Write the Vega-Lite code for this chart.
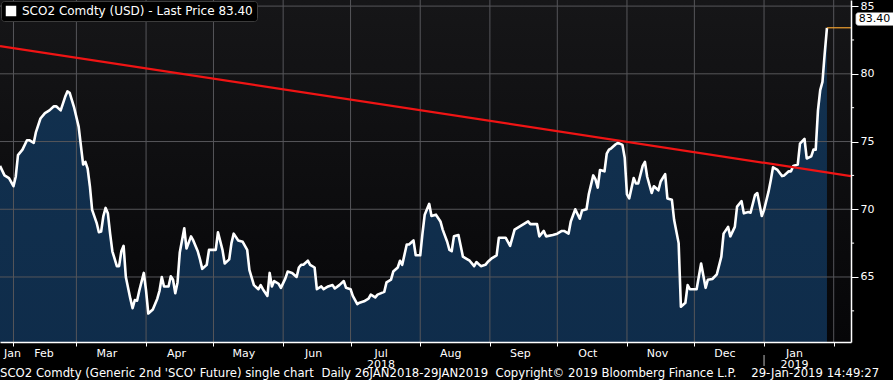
{
  "$schema": "https://vega.github.io/schema/vega-lite/v6.json",
  "width": 851,
  "height": 342,
  "autosize": {"type": "none"},
  "padding": {"left": 0, "top": 0, "right": 42, "bottom": 38},
  "background": "#000000",
  "title": {
    "text": "SCO2 Comdty (Generic 2nd 'SCO' Future) single chart\u00a0\u00a0Daily 26JAN2018-29JAN2019\u00a0\u00a0Copyright\u00a9 2019 Bloomberg Finance L.P.\u00a0\u00a0\u00a0\u00a029-Jan-2019 14:49:27",
    "orient": "bottom", "anchor": "start", "frame": "group", "offset": -1,
    "color": "#ffffff", "font": "DejaVu Sans", "fontSize": 11.7, "fontWeight": "normal"
  },
  "config": {
    "view": {"stroke": null, "fill": {"gradient": "linear", "x1": 0, "y1": 0, "x2": 0, "y2": 1, "stops": [{"offset": 0, "color": "#161618"}, {"offset": 1, "color": "#060608"}]}},
    "font": "DejaVu Sans",
    "axis": {
      "title": null, "labelFont": "DejaVu Sans", "labelFontSize": 11, "labelColor": "#ffffff",
      "domainColor": "#ffffff", "tickColor": "#ffffff", "grid": false
    }
  },
  "datasets": {
    "prices": [
      {"date": "2018-01-26", "price": 73.2}, {"date": "2018-01-28", "price": 72.5}, {"date": "2018-01-30", "price": 72.3},
      {"date": "2018-02-01", "price": 71.7}, {"date": "2018-02-02", "price": 72.4}, {"date": "2018-02-03", "price": 74.0},
      {"date": "2018-02-05", "price": 74.4}, {"date": "2018-02-07", "price": 75.1}, {"date": "2018-02-08", "price": 75.1},
      {"date": "2018-02-10", "price": 74.9}, {"date": "2018-02-11", "price": 75.7}, {"date": "2018-02-13", "price": 76.7},
      {"date": "2018-02-15", "price": 77.1}, {"date": "2018-02-17", "price": 77.3}, {"date": "2018-02-19", "price": 77.6},
      {"date": "2018-02-20", "price": 77.6}, {"date": "2018-02-22", "price": 77.3}, {"date": "2018-02-24", "price": 78.3},
      {"date": "2018-02-25", "price": 78.7}, {"date": "2018-02-26", "price": 78.6}, {"date": "2018-02-28", "price": 77.5},
      {"date": "2018-03-02", "price": 76.1}, {"date": "2018-03-04", "price": 73.3}, {"date": "2018-03-05", "price": 73.5},
      {"date": "2018-03-06", "price": 73.0}, {"date": "2018-03-07", "price": 71.7}, {"date": "2018-03-08", "price": 69.95},
      {"date": "2018-03-10", "price": 69.0}, {"date": "2018-03-11", "price": 68.3}, {"date": "2018-03-12", "price": 68.35},
      {"date": "2018-03-13", "price": 69.5}, {"date": "2018-03-14", "price": 70.1}, {"date": "2018-03-15", "price": 69.7},
      {"date": "2018-03-16", "price": 68.2}, {"date": "2018-03-17", "price": 66.9}, {"date": "2018-03-19", "price": 65.8},
      {"date": "2018-03-20", "price": 65.8}, {"date": "2018-03-21", "price": 66.9}, {"date": "2018-03-22", "price": 67.3},
      {"date": "2018-03-23", "price": 65.0}, {"date": "2018-03-25", "price": 63.4}, {"date": "2018-03-26", "price": 62.7},
      {"date": "2018-03-27", "price": 63.3}, {"date": "2018-03-28", "price": 63.25}, {"date": "2018-03-29", "price": 64.0},
      {"date": "2018-03-31", "price": 65.3}, {"date": "2018-04-01", "price": 64.0}, {"date": "2018-04-02", "price": 62.3},
      {"date": "2018-04-04", "price": 62.6}, {"date": "2018-04-06", "price": 63.4}, {"date": "2018-04-07", "price": 64.0},
      {"date": "2018-04-08", "price": 65.0}, {"date": "2018-04-09", "price": 64.3}, {"date": "2018-04-11", "price": 64.3},
      {"date": "2018-04-12", "price": 65.05}, {"date": "2018-04-13", "price": 64.8}, {"date": "2018-04-14", "price": 63.8},
      {"date": "2018-04-15", "price": 64.6}, {"date": "2018-04-16", "price": 66.8}, {"date": "2018-04-18", "price": 68.6},
      {"date": "2018-04-19", "price": 67.1}, {"date": "2018-04-21", "price": 68.0}, {"date": "2018-04-22", "price": 67.7},
      {"date": "2018-04-24", "price": 66.9}, {"date": "2018-04-25", "price": 66.3}, {"date": "2018-04-26", "price": 65.6},
      {"date": "2018-04-28", "price": 65.9}, {"date": "2018-04-29", "price": 67.0}, {"date": "2018-05-02", "price": 67.0},
      {"date": "2018-05-03", "price": 68.3}, {"date": "2018-05-05", "price": 67.0}, {"date": "2018-05-06", "price": 66.0},
      {"date": "2018-05-08", "price": 66.3}, {"date": "2018-05-09", "price": 67.5}, {"date": "2018-05-10", "price": 68.2},
      {"date": "2018-05-12", "price": 67.7}, {"date": "2018-05-14", "price": 67.6}, {"date": "2018-05-16", "price": 67.0},
      {"date": "2018-05-17", "price": 65.5}, {"date": "2018-05-19", "price": 64.4}, {"date": "2018-05-21", "price": 64.1},
      {"date": "2018-05-22", "price": 64.4}, {"date": "2018-05-23", "price": 64.1}, {"date": "2018-05-25", "price": 63.6},
      {"date": "2018-05-26", "price": 65.3}, {"date": "2018-05-27", "price": 64.3}, {"date": "2018-05-28", "price": 64.7},
      {"date": "2018-05-30", "price": 64.5}, {"date": "2018-05-31", "price": 64.2}, {"date": "2018-06-02", "price": 64.9},
      {"date": "2018-06-03", "price": 65.4}, {"date": "2018-06-05", "price": 65.3}, {"date": "2018-06-07", "price": 65.0},
      {"date": "2018-06-08", "price": 65.7}, {"date": "2018-06-09", "price": 65.9}, {"date": "2018-06-10", "price": 65.9},
      {"date": "2018-06-12", "price": 66.2}, {"date": "2018-06-13", "price": 65.9}, {"date": "2018-06-15", "price": 65.7},
      {"date": "2018-06-16", "price": 64.1}, {"date": "2018-06-18", "price": 64.3}, {"date": "2018-06-19", "price": 64.1},
      {"date": "2018-06-21", "price": 64.3}, {"date": "2018-06-23", "price": 64.4}, {"date": "2018-06-24", "price": 64.15},
      {"date": "2018-06-26", "price": 64.4}, {"date": "2018-06-28", "price": 64.7}, {"date": "2018-06-29", "price": 64.2},
      {"date": "2018-07-01", "price": 64.1}, {"date": "2018-07-02", "price": 63.6}, {"date": "2018-07-04", "price": 63.0},
      {"date": "2018-07-05", "price": 63.1}, {"date": "2018-07-07", "price": 63.2}, {"date": "2018-07-09", "price": 63.4},
      {"date": "2018-07-10", "price": 63.7}, {"date": "2018-07-12", "price": 63.5}, {"date": "2018-07-13", "price": 63.7},
      {"date": "2018-07-16", "price": 63.9}, {"date": "2018-07-17", "price": 64.6}, {"date": "2018-07-19", "price": 64.8},
      {"date": "2018-07-20", "price": 65.4}, {"date": "2018-07-22", "price": 65.7}, {"date": "2018-07-23", "price": 66.2},
      {"date": "2018-07-24", "price": 65.9}, {"date": "2018-07-26", "price": 67.4}, {"date": "2018-07-27", "price": 67.4},
      {"date": "2018-07-29", "price": 67.7}, {"date": "2018-07-30", "price": 66.6}, {"date": "2018-08-01", "price": 66.6},
      {"date": "2018-08-02", "price": 68.2}, {"date": "2018-08-03", "price": 69.6}, {"date": "2018-08-05", "price": 70.4},
      {"date": "2018-08-06", "price": 69.5}, {"date": "2018-08-08", "price": 69.6}, {"date": "2018-08-10", "price": 69.1},
      {"date": "2018-08-11", "price": 68.5}, {"date": "2018-08-13", "price": 67.6}, {"date": "2018-08-14", "price": 67.0},
      {"date": "2018-08-15", "price": 66.9}, {"date": "2018-08-16", "price": 68.0}, {"date": "2018-08-18", "price": 68.1},
      {"date": "2018-08-19", "price": 67.3}, {"date": "2018-08-20", "price": 66.5}, {"date": "2018-08-22", "price": 66.3},
      {"date": "2018-08-23", "price": 66.2}, {"date": "2018-08-25", "price": 65.8}, {"date": "2018-08-26", "price": 66.1},
      {"date": "2018-08-28", "price": 65.8}, {"date": "2018-08-30", "price": 65.9}, {"date": "2018-08-31", "price": 66.1},
      {"date": "2018-09-02", "price": 66.4}, {"date": "2018-09-04", "price": 66.6}, {"date": "2018-09-05", "price": 67.9},
      {"date": "2018-09-07", "price": 67.9}, {"date": "2018-09-08", "price": 67.9}, {"date": "2018-09-10", "price": 67.3},
      {"date": "2018-09-12", "price": 68.5}, {"date": "2018-09-14", "price": 68.7}, {"date": "2018-09-16", "price": 68.9},
      {"date": "2018-09-18", "price": 69.1}, {"date": "2018-09-19", "price": 68.9}, {"date": "2018-09-22", "price": 68.9},
      {"date": "2018-09-23", "price": 68.0}, {"date": "2018-09-25", "price": 68.4}, {"date": "2018-09-26", "price": 68.0},
      {"date": "2018-09-29", "price": 68.1}, {"date": "2018-10-01", "price": 68.2}, {"date": "2018-10-03", "price": 68.4},
      {"date": "2018-10-04", "price": 68.4}, {"date": "2018-10-06", "price": 68.2}, {"date": "2018-10-07", "price": 69.1},
      {"date": "2018-10-09", "price": 70.0}, {"date": "2018-10-11", "price": 69.3}, {"date": "2018-10-12", "price": 69.9},
      {"date": "2018-10-14", "price": 70.0}, {"date": "2018-10-15", "price": 71.1}, {"date": "2018-10-17", "price": 72.5},
      {"date": "2018-10-18", "price": 72.2}, {"date": "2018-10-19", "price": 71.6}, {"date": "2018-10-20", "price": 72.9},
      {"date": "2018-10-22", "price": 72.8}, {"date": "2018-10-23", "price": 74.1}, {"date": "2018-10-24", "price": 74.4},
      {"date": "2018-10-25", "price": 74.5}, {"date": "2018-10-27", "price": 74.8}, {"date": "2018-10-28", "price": 74.9},
      {"date": "2018-10-30", "price": 74.75}, {"date": "2018-10-31", "price": 73.8}, {"date": "2018-11-01", "price": 71.1},
      {"date": "2018-11-02", "price": 70.8}, {"date": "2018-11-04", "price": 72.3}, {"date": "2018-11-05", "price": 71.9},
      {"date": "2018-11-06", "price": 71.9}, {"date": "2018-11-08", "price": 73.2}, {"date": "2018-11-09", "price": 73.5},
      {"date": "2018-11-10", "price": 72.4}, {"date": "2018-11-12", "price": 71.2}, {"date": "2018-11-13", "price": 71.7},
      {"date": "2018-11-15", "price": 71.4}, {"date": "2018-11-16", "price": 72.05}, {"date": "2018-11-18", "price": 72.6},
      {"date": "2018-11-19", "price": 70.8}, {"date": "2018-11-21", "price": 70.7}, {"date": "2018-11-22", "price": 69.2},
      {"date": "2018-11-24", "price": 67.5}, {"date": "2018-11-25", "price": 62.8}, {"date": "2018-11-27", "price": 63.1},
      {"date": "2018-11-28", "price": 64.4}, {"date": "2018-11-29", "price": 64.1}, {"date": "2018-12-02", "price": 64.1},
      {"date": "2018-12-03", "price": 65.05}, {"date": "2018-12-04", "price": 66.0}, {"date": "2018-12-06", "price": 64.2},
      {"date": "2018-12-07", "price": 64.8}, {"date": "2018-12-09", "price": 64.85}, {"date": "2018-12-11", "price": 65.2},
      {"date": "2018-12-13", "price": 66.5}, {"date": "2018-12-14", "price": 68.2}, {"date": "2018-12-16", "price": 68.7},
      {"date": "2018-12-17", "price": 68.0}, {"date": "2018-12-19", "price": 68.7}, {"date": "2018-12-20", "price": 70.2},
      {"date": "2018-12-22", "price": 70.6}, {"date": "2018-12-23", "price": 69.7}, {"date": "2018-12-25", "price": 69.8},
      {"date": "2018-12-26", "price": 69.75}, {"date": "2018-12-28", "price": 71.05}, {"date": "2018-12-29", "price": 71.2},
      {"date": "2018-12-31", "price": 69.5}, {"date": "2019-01-01", "price": 69.95}, {"date": "2019-01-03", "price": 71.3},
      {"date": "2019-01-04", "price": 72.15}, {"date": "2019-01-05", "price": 73.1}, {"date": "2019-01-07", "price": 72.9},
      {"date": "2019-01-09", "price": 72.45}, {"date": "2019-01-10", "price": 72.5}, {"date": "2019-01-12", "price": 72.8},
      {"date": "2019-01-13", "price": 72.8}, {"date": "2019-01-14", "price": 73.2}, {"date": "2019-01-16", "price": 73.3},
      {"date": "2019-01-17", "price": 74.85}, {"date": "2019-01-19", "price": 75.2}, {"date": "2019-01-20", "price": 73.75},
      {"date": "2019-01-22", "price": 73.9}, {"date": "2019-01-23", "price": 74.4}, {"date": "2019-01-24", "price": 74.4},
      {"date": "2019-01-25", "price": 77.3}, {"date": "2019-01-26", "price": 78.8}, {"date": "2019-01-27", "price": 79.4},
      {"date": "2019-01-28", "price": 81.5}, {"date": "2019-01-29", "price": 83.4}
    ],
    "trend": [
      {"date": "2018-01-26T00:00:00Z", "price": 82.05},
      {"date": "2019-02-08T16:48:00Z", "price": 72.45}
    ],
    "last": [
      {"date": "2019-01-29", "price": 83.4, "label": "83.40"}
    ],
    "monthGrid": [
      {"date": "2018-02-01"}, {"date": "2018-03-01"}, {"date": "2018-04-01"}, {"date": "2018-05-01"},
      {"date": "2018-06-01"}, {"date": "2018-07-01"}, {"date": "2018-08-01"}, {"date": "2018-09-01"},
      {"date": "2018-10-01"}, {"date": "2018-11-01"}, {"date": "2018-12-01"}, {"date": "2019-01-01"},
      {"date": "2019-02-01"}
    ],
    "priceGrid": [
      {"level": 65}, {"level": 70}, {"level": 75}, {"level": 80}, {"level": 85}
    ],
    "minorTicks": [
      {"level": 62.5}, {"level": 67.5}, {"level": 72.5}, {"level": 77.5}, {"level": 82.5}
    ]
  },
  "layer": [
    {
      "data": {"name": "prices"},
      "mark": {"type": "area", "clip": true, "color": {"gradient": "linear", "x1": 0, "y1": 0, "x2": 0, "y2": 1, "stops": [{"offset": 0, "color": "#12314f"}, {"offset": 1, "color": "#07203f"}]}},
      "encoding": {
        "x": {
          "field": "date", "type": "temporal",
          "scale": {"type": "utc", "nice": false, "domain": [{"year": 2018, "month": 1, "date": 26, "utc": true}, {"year": 2019, "month": 2, "date": 8, "hours": 16, "minutes": 48, "utc": true}]},
          "axis": {
            "orient": "bottom",
            "values": [
              {"year": 2018, "month": 1, "date": 26, "utc": true},
              {"year": 2018, "month": 2, "date": 1, "utc": true}, {"year": 2018, "month": 3, "date": 1, "utc": true},
              {"year": 2018, "month": 4, "date": 1, "utc": true}, {"year": 2018, "month": 5, "date": 1, "utc": true},
              {"year": 2018, "month": 6, "date": 1, "utc": true}, {"year": 2018, "month": 7, "date": 1, "utc": true},
              {"year": 2018, "month": 8, "date": 1, "utc": true}, {"year": 2018, "month": 9, "date": 1, "utc": true},
              {"year": 2018, "month": 10, "date": 1, "utc": true}, {"year": 2018, "month": 11, "date": 1, "utc": true},
              {"year": 2018, "month": 12, "date": 1, "utc": true}, {"year": 2019, "month": 1, "date": 1, "utc": true},
              {"year": 2019, "month": 2, "date": 1, "utc": true}
            ],
            "labelExpr": "utcFormat(datum.value, '%Y-%m') == '2019-02' ? '' : (utcFormat(datum.value, '%Y-%m') == '2018-07' ? ['Jul', '2018'] : (utcFormat(datum.value, '%Y-%m') == '2019-01' ? ['Jan', '2019'] : utcFormat(datum.value, '%b')))",
            "labelOffset": {"condition": {"test": "utcFormat(datum.value, '%Y-%m') == '2018-01'", "value": 12}, "value": 30},
            "tickOpacity": {"condition": {"test": "utcFormat(datum.value, '%Y-%m') == '2018-01'", "value": 0}, "value": 1},
            "labelFlush": false, "labelOverlap": false, "labelBound": false,
            "labelPadding": 1, "labelLineHeight": 11, "labelBaseline": "top",
            "grid": false, "ticks": true, "tickSize": 4, "domain": true, "domainWidth": 1.5, "zindex": 1, "title": null
          }
        },
        "y": {
          "field": "price", "type": "quantitative",
          "scale": {"domain": [60.2, 85.45], "zero": false, "nice": false},
          "axis": {
            "orient": "right", "values": [65, 70, 75, 80, 85], "format": "d",
            "tickSize": 7, "labelPadding": 2, "labelOverlap": false, "grid": false, "domain": true, "domainWidth": 1.5, "zindex": 1, "title": null
          }
        }
      }
    },
    {
      "data": {"name": "monthGrid"},
      "mark": {"type": "rule", "color": "#56565a", "strokeWidth": 1},
      "encoding": {
        "x": {"field": "date", "type": "temporal", "scale": {"type": "utc", "nice": false, "domain": [{"year": 2018, "month": 1, "date": 26, "utc": true}, {"year": 2019, "month": 2, "date": 8, "hours": 16, "minutes": 48, "utc": true}]}},
        "y": {"datum": 85.45, "type": "quantitative", "scale": {"domain": [60.2, 85.45], "zero": false, "nice": false}},
        "y2": {"datum": 60.2}
      }
    },
    {
      "data": {"name": "priceGrid"},
      "mark": {"type": "rule", "color": "#56565a", "strokeWidth": 1},
      "encoding": {
        "x": {"datum": {"year": 2018, "month": 1, "date": 26, "utc": true}, "type": "temporal", "scale": {"type": "utc", "nice": false, "domain": [{"year": 2018, "month": 1, "date": 26, "utc": true}, {"year": 2019, "month": 2, "date": 8, "hours": 16, "minutes": 48, "utc": true}]}},
        "x2": {"datum": {"year": 2019, "month": 2, "date": 8, "hours": 16, "minutes": 48, "utc": true}},
        "y": {"field": "level", "type": "quantitative", "scale": {"domain": [60.2, 85.45], "zero": false, "nice": false}}
      }
    },
    {
      "data": {"name": "minorTicks"},
      "mark": {"type": "rule", "color": "#ffffff", "strokeWidth": 1, "clip": false},
      "encoding": {
        "x": {"datum": {"year": 2019, "month": 2, "date": 8, "hours": 16, "minutes": 48, "utc": true}, "type": "temporal", "scale": {"type": "utc", "nice": false, "domain": [{"year": 2018, "month": 1, "date": 26, "utc": true}, {"year": 2019, "month": 2, "date": 8, "hours": 16, "minutes": 48, "utc": true}]}},
        "x2": {"datum": {"year": 2019, "month": 2, "date": 10, "hours": 2, "utc": true}},
        "y": {"field": "level", "type": "quantitative", "scale": {"domain": [60.2, 85.45], "zero": false, "nice": false}}
      }
    },
    {
      "data": {"name": "prices"},
      "mark": {"type": "line", "clip": true, "strokeWidth": 2.6, "strokeJoin": "round"},
      "encoding": {
        "x": {"field": "date", "type": "temporal", "scale": {"type": "utc", "nice": false, "domain": [{"year": 2018, "month": 1, "date": 26, "utc": true}, {"year": 2019, "month": 2, "date": 8, "hours": 16, "minutes": 48, "utc": true}]}},
        "y": {"field": "price", "type": "quantitative", "scale": {"domain": [60.2, 85.45], "zero": false, "nice": false}},
        "color": {
          "datum": "SCO2 Comdty (USD) - Last Price 83.40",
          "scale": {"range": ["#ffffff"]},
          "legend": {
            "orient": "top-left", "offset": 1, "title": null, "fillColor": "#000000", "strokeColor": "#3c3c3c", "cornerRadius": 3, "padding": 4,
            "labelColor": "#ffffff", "labelFont": "DejaVu Sans", "labelFontSize": 12, "labelLimit": 400, "labelOffset": 5,
            "symbolType": "square", "symbolSize": 110, "symbolFillColor": "#ffffff", "symbolStrokeColor": "#ffffff",
            "encode": {"symbols": {"update": {"fill": {"value": "#ffffff"}, "stroke": {"value": "#ffffff"}, "strokeWidth": {"value": 0}, "shape": {"value": "square"}, "size": {"value": 110}}}}
          }
        }
      }
    },
    {
      "data": {"name": "trend"},
      "mark": {"type": "line", "clip": true, "color": "#f01414", "strokeWidth": 2.2},
      "encoding": {
        "x": {"field": "date", "type": "temporal", "scale": {"type": "utc", "nice": false, "domain": [{"year": 2018, "month": 1, "date": 26, "utc": true}, {"year": 2019, "month": 2, "date": 8, "hours": 16, "minutes": 48, "utc": true}]}},
        "y": {"field": "price", "type": "quantitative", "scale": {"domain": [60.2, 85.45], "zero": false, "nice": false}}
      }
    },
    {
      "data": {"name": "last"},
      "mark": {"type": "rule", "color": "#bbbbbb", "strokeWidth": 1, "clip": false},
      "encoding": {
        "x": {"datum": {"year": 2019, "month": 1, "date": 1, "utc": true}, "type": "temporal", "scale": {"type": "utc", "nice": false, "domain": [{"year": 2018, "month": 1, "date": 26, "utc": true}, {"year": 2019, "month": 2, "date": 8, "hours": 16, "minutes": 48, "utc": true}]}},
        "y": {"datum": 59.24, "type": "quantitative", "scale": {"domain": [60.2, 85.45], "zero": false, "nice": false}},
        "y2": {"datum": 58.43}
      }
    },
    {
      "data": {"name": "last"},
      "mark": {"type": "rule", "color": "#f0a030", "strokeWidth": 1.2},
      "encoding": {
        "x": {"field": "date", "type": "temporal", "scale": {"type": "utc", "nice": false, "domain": [{"year": 2018, "month": 1, "date": 26, "utc": true}, {"year": 2019, "month": 2, "date": 8, "hours": 16, "minutes": 48, "utc": true}]}},
        "x2": {"datum": {"year": 2019, "month": 2, "date": 8, "hours": 16, "minutes": 48, "utc": true}},
        "y": {"field": "price", "type": "quantitative", "scale": {"domain": [60.2, 85.45], "zero": false, "nice": false}}
      }
    },
    {
      "data": {"name": "last"},
      "mark": {"type": "rect", "fill": "#ffffff", "stroke": "#ffffff", "cornerRadius": 2},
      "encoding": {
        "x": {"datum": {"year": 2019, "month": 2, "date": 11, "utc": true}, "type": "temporal", "scale": {"type": "utc", "nice": false, "domain": [{"year": 2018, "month": 1, "date": 26, "utc": true}, {"year": 2019, "month": 2, "date": 8, "hours": 16, "minutes": 48, "utc": true}]}},
        "x2": {"datum": {"year": 2019, "month": 3, "date": 1, "utc": true}},
        "y": {"datum": 84.49, "type": "quantitative", "scale": {"domain": [60.2, 85.45], "zero": false, "nice": false}},
        "y2": {"datum": 83.6}
      }
    },
    {
      "data": {"name": "last"},
      "mark": {"type": "text", "align": "left", "baseline": "middle", "dy": -8.5, "color": "#000000", "font": "DejaVu Sans", "fontSize": 11},
      "encoding": {
        "x": {"datum": {"year": 2019, "month": 2, "date": 12, "hours": 4, "utc": true}, "type": "temporal", "scale": {"type": "utc", "nice": false, "domain": [{"year": 2018, "month": 1, "date": 26, "utc": true}, {"year": 2019, "month": 2, "date": 8, "hours": 16, "minutes": 48, "utc": true}]}},
        "y": {"field": "price", "type": "quantitative", "scale": {"domain": [60.2, 85.45], "zero": false, "nice": false}},
        "text": {"field": "label"}
      }
    }
  ]
}
